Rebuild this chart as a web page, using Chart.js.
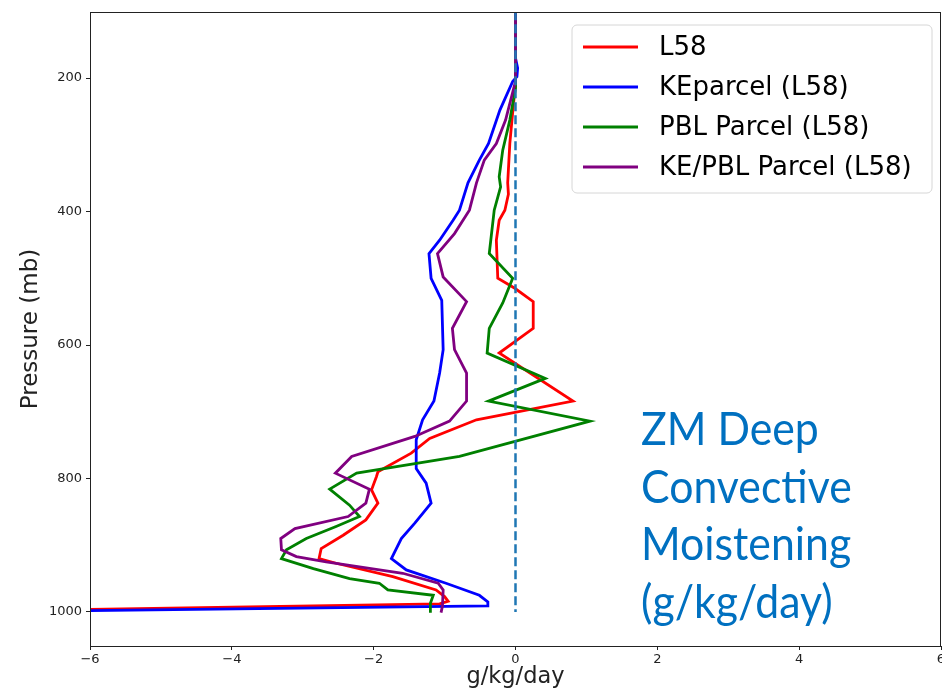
<!DOCTYPE html>
<html><head><meta charset="utf-8">
<script src="https://cdn.jsdelivr.net/npm/chart.js@4/dist/chart.umd.min.js"></script>
<style>
html,body{margin:0;padding:0;background:#fff;}
#wrap{position:relative;width:942px;height:693px;overflow:hidden;}
#note{position:absolute;left:641px;top:399px;font-family:Lato,"Open Sans",sans-serif;font-size:46px;line-height:57.5px;color:#0070C0;white-space:nowrap;transform:scaleX(0.93);transform-origin:0 0;}
</style></head><body>
<div id="wrap"><canvas id="c" width="942" height="693"></canvas>
<div id="note">ZM Deep<br>Convective<br>Moistening<br>(g/kg/day)</div></div>
<script>
// ---- data (pressure in mb, moistening in g/kg/day) ----
const seriesLabels = ["L58", "KEparcel (L58)", "PBL Parcel (L58)", "KE/PBL Parcel (L58)"];
const l58P = [100,210,240,298,357,374,398,413,443,500,515,535,575,612,684,712,740,762,790,797,817,837,862,885,905,920,927,947,967,977,984,988,1003];
const l58Q = [0,0,-0.03,-0.08,-0.11,-0.10,-0.15,-0.23,-0.27,-0.25,-0.01,0.25,0.25,-0.23,0.81,-0.55,-1.21,-1.47,-1.94,-1.96,-2.03,-1.94,-2.11,-2.43,-2.74,-2.77,-2.53,-1.73,-1.12,-1.00,-0.95,-1.07,-10];
const keP = [100,170,185,198,205,248,298,323,357,398,413,443,463,500,533,607,642,684,712,742,785,807,837,867,890,920,937,957,975,985,991,1000];
const keQ = [0,0,0.03,0.02,-0.04,-0.22,-0.38,-0.51,-0.67,-0.79,-0.88,-1.07,-1.22,-1.19,-1.04,-1.02,-1.07,-1.15,-1.31,-1.40,-1.40,-1.26,-1.19,-1.42,-1.61,-1.75,-1.54,-0.98,-0.51,-0.39,-0.39,-7.6];
const pblP = [100,215,263,308,348,363,398,463,500,537,575,612,650,684,714,767,792,816,840,857,872,890,907,920,935,950,957,967,975,987,1001];
const pblQ = [0,0,-0.08,-0.18,-0.23,-0.21,-0.30,-0.37,-0.04,-0.18,-0.37,-0.40,0.42,-0.38,1.05,-0.79,-2.24,-2.62,-2.34,-2.20,-2.53,-2.95,-3.23,-3.30,-2.85,-2.34,-1.92,-1.80,-1.16,-1.20,-1.20];
const kpP = [100,205,263,298,323,357,398,433,463,498,535,575,607,642,684,714,737,767,792,816,837,857,875,890,907,917,925,942,957,967,991,1001];
const kpQ = [0,0,-0.14,-0.27,-0.44,-0.55,-0.65,-0.86,-1.10,-1.02,-0.69,-0.89,-0.86,-0.69,-0.69,-0.93,-1.42,-2.31,-2.54,-2.06,-2.11,-2.36,-3.11,-3.31,-3.30,-3.09,-2.67,-1.59,-1.09,-1.02,-1.03,-1.05];
const zeroP = [100, 1000];
const zeroQ = [0, 0];
const xTicks = [-6,-4,-2,0,2,4,6];
const yTicks = [200,400,600,800,1000];

const toXY = (q, p) => q.map((v, i) => ({x: v, y: p[i]}));

const lineDs = (label, q, p, color, order) => ({
  label, data: toXY(q, p), borderColor: color, backgroundColor: color,
  borderWidth: 2.8, pointRadius: 0, showLine: true, tension: 0, order, fill: false
});

const datasets = [
  lineDs(seriesLabels[0], l58Q, l58P, '#ff0000', 4),
  lineDs(seriesLabels[1], keQ, keP, '#0000ff', 3),
  lineDs(seriesLabels[2], pblQ, pblP, '#008000', 2),
  lineDs(seriesLabels[3], kpQ, kpP, '#800080', 1),
  {label: '', data: toXY(zeroQ, zeroP), borderColor: '#1f77b4', borderWidth: 2.5,
   borderDash: [9, 4], pointRadius: 0, showLine: true, order: 0, fill: false}
];

const frame = {
  id: 'frame',
  afterDraw(chart) {
    const {ctx, chartArea: a} = chart;
    ctx.save();
    ctx.strokeStyle = '#222';
    ctx.lineWidth = 1;
    ctx.strokeRect(Math.round(a.left) + 0.5, Math.round(a.top) + 0.5,
                   Math.round(a.right - a.left) - 1, Math.round(a.bottom - a.top));
    ctx.restore();
  }
};

const boxLegend = {
  id: 'boxLegend',
  afterDraw(chart) {
    const {ctx, chartArea: a} = chart;
    const items = chart.data.datasets.filter(d => d.label);
    const bx = a.right - 369, by = a.top + 13, bw = 360, bh = 168, r = 5;
    ctx.save();
    ctx.beginPath();
    ctx.moveTo(bx + r, by);
    ctx.arcTo(bx + bw, by, bx + bw, by + bh, r);
    ctx.arcTo(bx + bw, by + bh, bx, by + bh, r);
    ctx.arcTo(bx, by + bh, bx, by, r);
    ctx.arcTo(bx, by, bx + bw, by, r);
    ctx.closePath();
    ctx.fillStyle = 'rgba(255,255,255,0.85)';
    ctx.fill();
    ctx.strokeStyle = '#d6d6d6';
    ctx.lineWidth = 1;
    ctx.stroke();
    ctx.font = '26px "DejaVu Sans"';
    ctx.textBaseline = 'middle';
    ctx.fillStyle = '#000';
    items.forEach((d, i) => {
      const y = by + 22 + i * 40;
      ctx.beginPath();
      ctx.moveTo(bx + 11, y);
      ctx.lineTo(bx + 66, y);
      ctx.strokeStyle = d.borderColor;
      ctx.lineWidth = 2.8;
      ctx.stroke();
      ctx.fillText(d.label, bx + 87, y + 1);
    });
    ctx.restore();
  }
};

const minus = v => (v < 0 ? '\u2212' + Math.abs(v) : String(v));

new Chart(document.getElementById('c'), {
  type: 'scatter',
  data: {datasets},
  options: {
    responsive: false,
    animation: false,
    layout: {padding: {top: 12, right: 1, left: 0, bottom: 0}},
    plugins: {legend: {display: false}, tooltip: {enabled: false}},
    scales: {
      x: {
        type: 'linear', min: -6, max: 6,
        afterBuildTicks: s => { s.ticks = xTicks.map(v => ({value: v})); },
        afterFit: s => { s.height = 47; s.paddingLeft = 0; s.paddingRight = 0; },
        grid: {drawOnChartArea: false, drawTicks: true, tickLength: 4, color: '#222'},
        border: {display: true, color: '#222'},
        ticks: {color: '#222', font: {family: 'DejaVu Sans', size: 13}, padding: 2, callback: v => minus(v), maxRotation: 0},
        title: {display: true, text: 'g/kg/day', color: '#222', font: {family: 'DejaVu Sans', size: 22.5}, padding: 2}
      },
      y: {
        type: 'linear', reverse: true, min: 101, max: 1051,
        afterBuildTicks: s => { s.ticks = yTicks.map(v => ({value: v})); },
        afterFit: s => { s.width = 90; s.paddingTop = 0; s.paddingBottom = 0; },
        grid: {drawOnChartArea: false, drawTicks: true, tickLength: 4, color: '#222'},
        border: {display: true, color: '#222'},
        ticks: {color: '#222', font: {family: 'DejaVu Sans', size: 13}, padding: 4, callback: v => String(v)},
        title: {display: true, text: 'Pressure (mb)', color: '#222', font: {family: 'DejaVu Sans', size: 23}, padding: 17}
      }
    }
  },
  plugins: [frame, boxLegend]
});
</script>
</body></html>
